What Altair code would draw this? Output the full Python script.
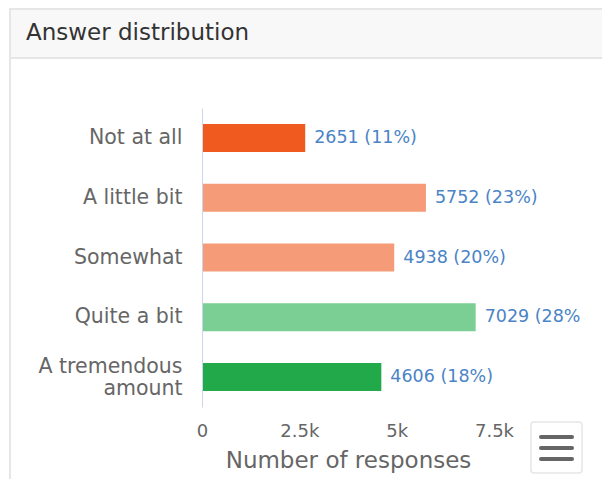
import altair as alt
import pandas as pd

categories = ["Not at all", "A little bit", "Somewhat", "Quite a bit", "A tremendous amount"]
counts = [2651, 5752, 4938, 7029, 4606]
colors = ["#f05a1e", "#f59b77", "#f59b77", "#7bcf94", "#22aa4a"]
x_ticks = [0, 2500, 5000, 7500]

total = sum(counts)
df = pd.DataFrame({
    "category": categories,
    "count": counts,
    "color": colors,
})
df["label"] = [f"{c} ({round(100 * c / total)}%)" for c in counts]

FONT = "DejaVu Sans"
one = pd.DataFrame({"k": [0]})

y_enc = alt.Y(
    "category:N",
    sort=categories,
    scale=alt.Scale(paddingInner=0, paddingOuter=0),
    axis=alt.Axis(
        title=None,
        ticks=False,
        domainColor="#ccd6eb",
        domainWidth=1,
        labelColor="#666666",
        labelFont=FONT,
        labelFontSize=20.5,
        labelPadding=20,
        labelLineHeight=22,
        labelExpr="datum.value == 'A tremendous amount' ? ['A tremendous', 'amount'] : datum.value",
        labelOffset={"condition": {"test": "datum.value == 'A tremendous amount'", "value": -10}, "value": 0},
        grid=False,
        zindex=1,
    ),
)
x_enc = alt.X(
    "count:Q",
    scale=alt.Scale(domain=[0, 7500], nice=False),
    axis=alt.Axis(
        values=x_ticks,
        labelExpr="datum.value == 0 ? '0' : format(datum.value / 1000, '~g') + 'k'",
        title="Number of responses",
        titleColor="#666666",
        titleFont=FONT,
        titleFontSize=23,
        titleFontWeight="normal",
        titlePadding=9,
        labelColor="#666666",
        labelFont=FONT,
        labelFontSize=18,
        labelPadding=15,
        labelFlush=False,
        ticks=False,
        domain=False,
        grid=False,
        zindex=1,
    ),
)

# panel decorations (pixel offsets relative to the plot area)
panel = alt.Chart(one).mark_rect(fill="white", stroke="#e6e6e6", strokeWidth=2).encode(
    x=alt.value(-192), x2=alt.value(420), y=alt.value(-99), y2=alt.value(400)
)
header = alt.Chart(one).mark_rect(fill="#f8f8f8", stroke="#e6e6e6", strokeWidth=2).encode(
    x=alt.value(-192), x2=alt.value(420), y=alt.value(-99), y2=alt.value(-50)
)
header_title = alt.Chart(one).mark_text(
    text="Answer distribution", font=FONT, fontSize=23, color="#333333",
    align="left", baseline="alphabetic"
).encode(x=alt.value(-176), y=alt.value(-68))

bars = alt.Chart(df).mark_bar(size=28).encode(
    y=y_enc,
    x=x_enc,
    color=alt.Color("color:N", scale=None, legend=None),
)
labels = alt.Chart(df).mark_text(
    align="left", baseline="middle", dx=9, font=FONT, fontSize=17.5,
    color="#4a84c6", ellipsis="\u200b",
    limit=alt.ExprRef("datum.count > 7000 ? 100 : 500"),
).encode(
    y=alt.Y("category:N", sort=categories),
    x="count:Q",
    text="label:N",
)

btn = alt.Chart(one).mark_rect(fill="white", stroke="#e6e6e6", strokeWidth=1.5, cornerRadius=3).encode(
    x=alt.value(329), x2=alt.value(380), y=alt.value(314), y2=alt.value(365)
)
line_rows = pd.DataFrame({"yy": [329, 340, 351]})
btn_lines = alt.Chart(line_rows).mark_rule(color="#666666", strokeWidth=4, strokeCap="round").encode(
    x=alt.value(339), x2=alt.value(370), y=alt.Y("yy:Q", scale=None)
)

chart = alt.layer(panel, header, header_title, bars, labels, btn, btn_lines).properties(
    width=292,
    height=299,
    autosize=alt.AutoSizeParams(type="none"),
    padding={"left": 194, "top": 100, "right": 108, "bottom": 72},
).configure_view(stroke=None)

chart.save("out.html", embed_options={"renderer": "svg", "actions": False})
